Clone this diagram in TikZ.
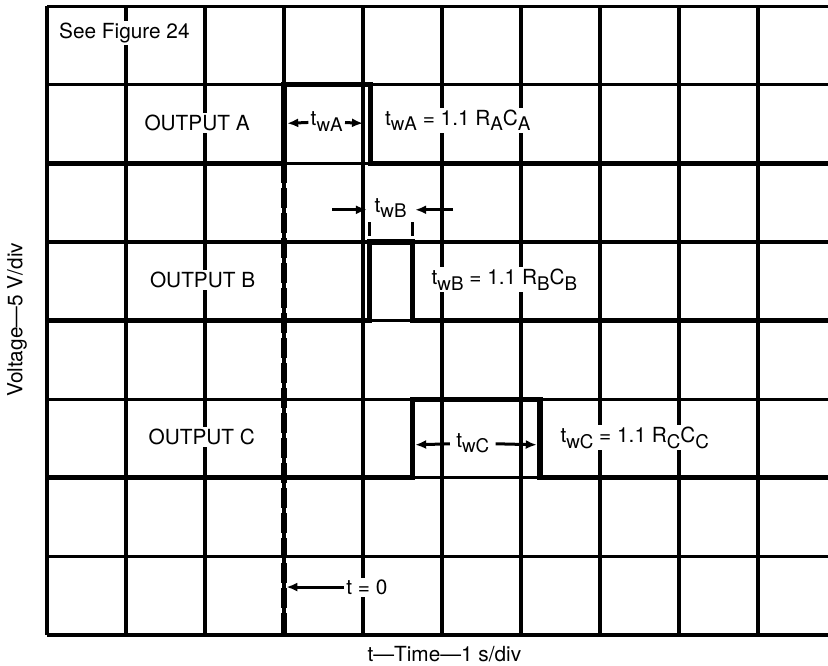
\documentclass[tikz,border=0pt]{standalone}
\usepackage{fontspec}
\setmainfont{TeX Gyre Heros}
\usetikzlibrary{arrows.meta}
\tikzset{
  lbl/.style={fill=white, inner sep=1pt, font=\fontsize{10.4}{12}\selectfont},
  gridline/.style={line width=1.6pt},
  trace/.style={line width=2.6pt, line join=miter},
  zeroline/.style={line width=3.2pt, dash pattern=on 10pt off 2.5pt},
  dimarrow/.style={-{Latex[length=5.5pt,width=4.5pt]}, line width=1.5pt},
  tickline/.style={line width=1.4pt}
}
\newcommand{\lo}[1]{\raisebox{-2.8pt}{\fontsize{9.4}{10}\selectfont #1}}

\begin{document}
\begin{tikzpicture}[x=39.5pt, y=39.3pt]
\clip (-0.595,-0.382) rectangle (9.886,8.079);

% screen grid, 10 x 8 divisions
\foreach \i in {0,...,10}
  \draw[gridline] (\i,0) -- (\i,8);
\foreach \j in {0,...,8}
  \draw[gridline] (0,\j) -- (10,\j);

% the three outputs
\draw[trace] (0,6) -- (3,6) -- (3,7) -- (4.09,7) -- (4.09,6) -- (10,6);
\draw[trace] (0,4) -- (4.08,4) -- (4.08,5) -- (4.63,5) -- (4.63,4) -- (10,4);
\draw[trace] (0,2) -- (4.63,2) -- (4.63,3) -- (6.24,3) -- (6.24,2) -- (10,2);
\draw[zeroline] (3,6) -- (3,0);
\draw[tickline] (4.08,5.08) -- (4.08,5.25);
\draw[tickline] (4.63,5.08) -- (4.63,5.25);

\node[lbl] (seefig) at (0.98,7.66) {See Figure 24};
\node[lbl] (outA) at (1.90,6.51) {OUTPUT A};
\node[lbl] (outB) at (1.97,4.52) {OUTPUT B};
\node[lbl] (outC) at (1.96,2.52) {OUTPUT C};

\node[lbl] (eqA) at (5.2,6.55) {t\lo{wA} = 1.1 R\lo{A}C\lo{A}};
\node[lbl] (eqB) at (5.79,4.52) {t\lo{wB} = 1.1 R\lo{B}C\lo{B}};
\node[lbl] (eqC) at (7.44,2.51) {t\lo{wC} = 1.1 R\lo{C}C\lo{C}};

% pulse widths
\node[lbl] (twA) at (3.54,6.53) {t\lo{wA}};
\coordinate (twAl) at (3.04,6.51);
\coordinate (twAr) at (4.0,6.51);
\draw[dimarrow] (twA) -- (twAl);
\draw[dimarrow] (twA) -- (twAr);

\node[lbl, inner sep=0.5pt] (twB) at (4.35,5.43) {t\lo{wB}};
\coordinate (twBtl) at (3.61,5.41);
\coordinate (twBl) at (4.05,5.41);
\coordinate (twBtr) at (5.14,5.41);
\coordinate (twBr) at (4.66,5.41);
\draw[dimarrow] (twBtl) -- (twBl);
\draw[dimarrow] (twBtr) -- (twBr);

\node[lbl, inner sep=3pt] (twC) at (5.39,2.44) {t\lo{wC}};
\coordinate (twCl) at (4.66,2.42);
\coordinate (twCr) at (6.20,2.42);
\draw[dimarrow] (twC) -- (twCl);
\draw[dimarrow] (twC) -- (twCr);

\node[lbl] (tzero) at (4.05,0.61) {t = 0};
\coordinate (tzeroend) at (3.03,0.61);
\draw[dimarrow] (tzero) -- (tzeroend);

% axis captions
\node[lbl, rotate=90] (ylab) at (-0.38,4.01) {Voltage---5 V/div};
\node[lbl] (xlab) at (5.03,-0.24) {t---Time---1 s/div};
\end{tikzpicture}
\end{document}
